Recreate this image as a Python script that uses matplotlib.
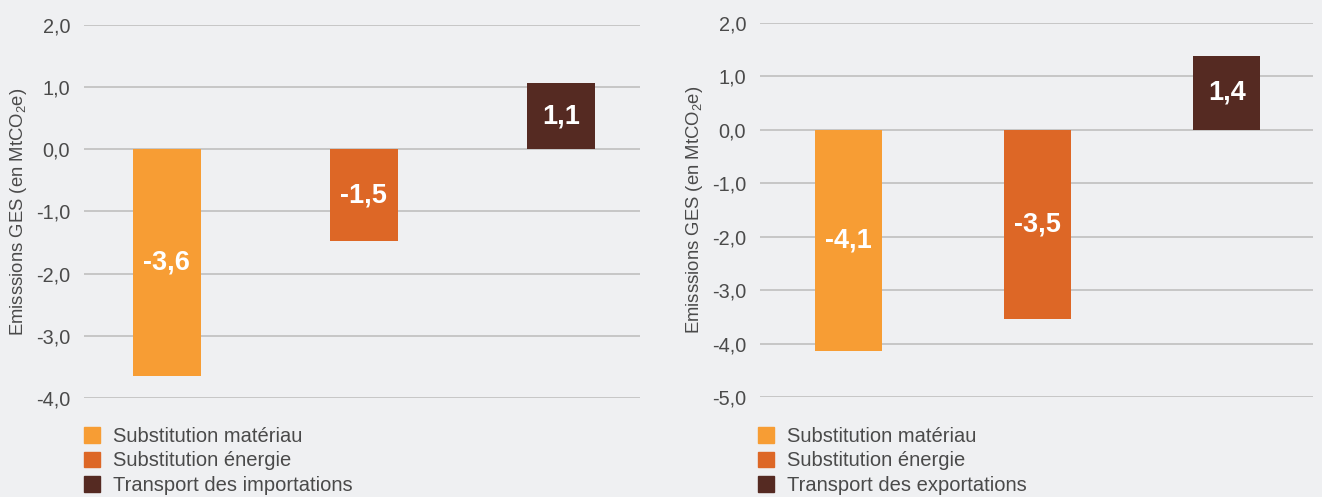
import matplotlib.pyplot as plt
from matplotlib.patches import Patch

plt.rcParams['font.family'] = ['Liberation Sans', 'DejaVu Sans']

# data
couleurs = ['#F79D34', '#DD6726', '#552A22']
legende_gauche = ['Substitution matériau', 'Substitution énergie', 'Transport des importations']
legende_droite = ['Substitution matériau', 'Substitution énergie', 'Transport des exportations']
valeurs_gauche = [-3.64, -1.48, 1.07]
valeurs_droite = [-4.14, -3.54, 1.39]
ticks_gauche = [2, 1, 0, -1, -2, -3, -4]
ticks_droite = [2, 1, 0, -1, -2, -3, -4, -5]

fond = '#EFF0F2'
texte = '#4A4A4A'

fig = plt.figure(figsize=(13.22, 4.97), dpi=100, facecolor=fond)


def panneau(rect, valeurs, ticks, etiquettes, xlim, largeur, leg_x):
    ax = fig.add_axes(rect, facecolor=fond)
    pos = range(len(valeurs))
    bars = ax.bar(pos, valeurs, width=largeur, color=couleurs, zorder=3)
    for b, v in zip(bars, valeurs):
        ax.text(b.get_x() + b.get_width() / 2, v / 2, ('%.1f' % v).replace('.', ','),
                ha='center', va='center', color='white', fontsize=19.5,
                fontweight='bold', zorder=4)
    ax.set_ylim(min(ticks), max(ticks))
    ax.set_xlim(*xlim)
    ax.set_yticks(ticks)
    ax.set_yticklabels([('%.1f' % t).replace('.', ',') for t in ticks],
                       color=texte, fontsize=14.3)
    ax.set_xticks([])
    ax.tick_params(axis='y', length=0, pad=10)
    for s in ax.spines.values():
        s.set_visible(False)
    ax.grid(axis='y', color='#BFBFBF', linewidth=1.2, zorder=0)
    ax.set_axisbelow(True)
    ax.set_ylabel(r'Emisssions GES (en MtCO$_\mathregular{2}$e)', color=texte,
                  fontsize=13.3, labelpad=5)
    handles = [Patch(color=c) for c in couleurs]
    ax.legend(handles, etiquettes, loc='upper left', bbox_to_anchor=(leg_x, 0.141),
              bbox_transform=fig.transFigure, frameon=False, fontsize=14.5,
              handlelength=0.8, handleheight=0.8, handletextpad=0.65,
              labelspacing=0.27, borderpad=0, borderaxespad=0, labelcolor=texte)
    return ax


panneau([0.0635, 0.1992, 0.4206, 0.7505], valeurs_gauche, ticks_gauche,
        legende_gauche, (-0.42, 2.4), 0.345, 0.0635)
panneau([0.5749, 0.2012, 0.4183, 0.7525], valeurs_droite, ticks_droite,
        legende_droite, (-0.466, 2.455), 0.355, 0.5734)

plt.savefig('out.png', dpi=100, facecolor=fond)
